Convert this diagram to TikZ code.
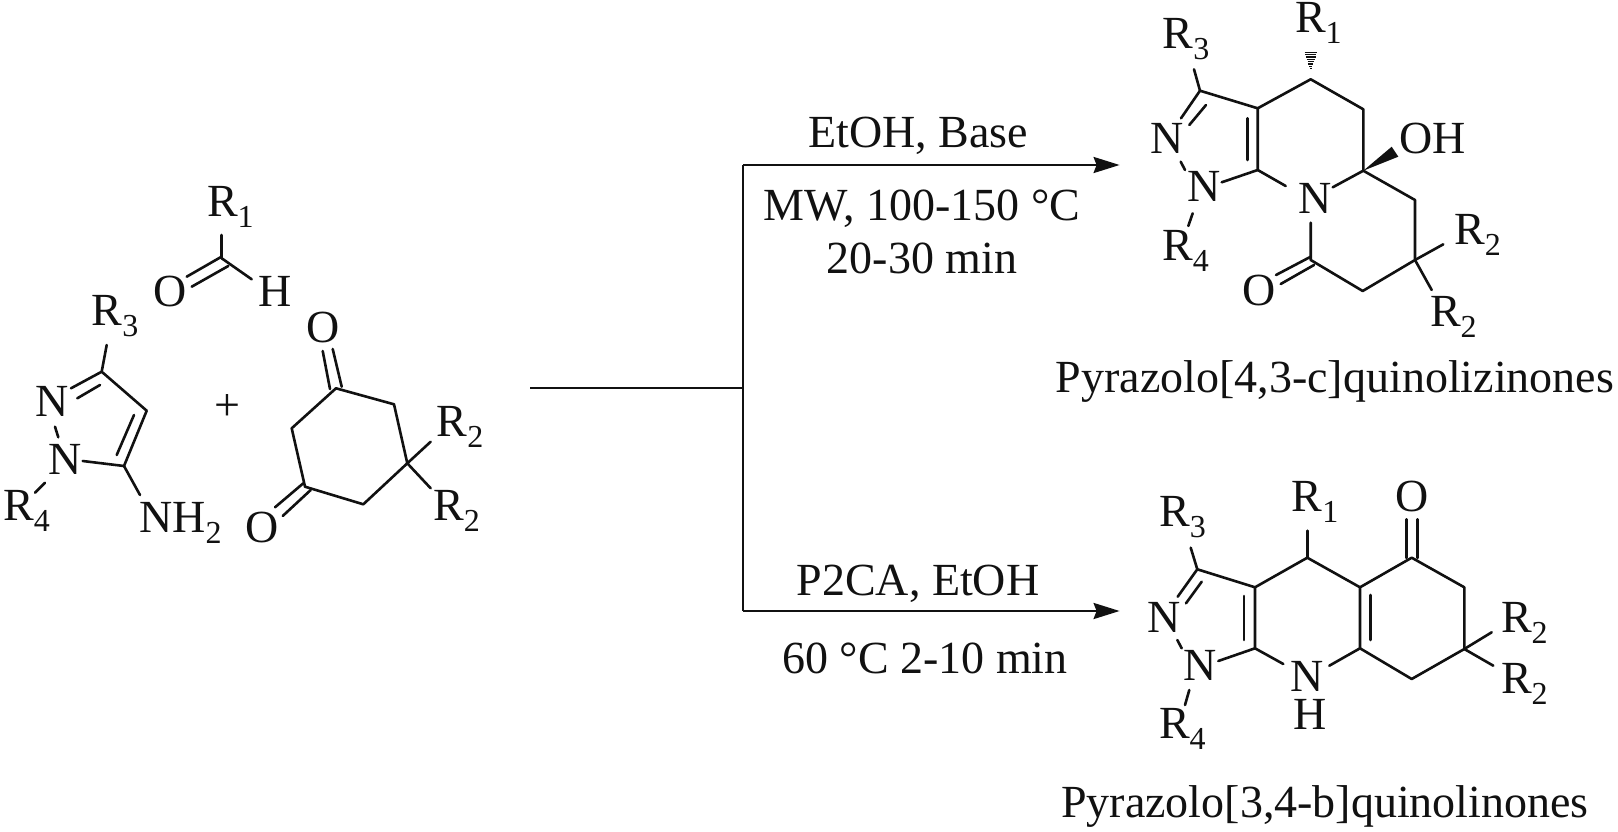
\documentclass[tikz,border=0pt]{standalone}
\usepackage{fontspec}
\setmainfont{Liberation Serif}
\usetikzlibrary{arrows.meta}
\newcommand{\subnum}[1]{\raisebox{-11pt}{\fontsize{32}{32}\selectfont #1}}
\newcommand{\Rn}[1]{R\subnum{#1}}
\definecolor{ink}{HTML}{111111}
\tikzset{
  lab/.style={anchor=base west,inner sep=0pt,outer sep=0pt,font=\fontsize{46}{46}\selectfont},
  captext/.style={anchor=base,inner sep=0pt,outer sep=0pt,font=\fontsize{46}{46}\selectfont},
  bond/.style={line width=2.6pt,line cap=round,line join=round,color=ink},
  flow/.style={line width=2.6pt,color=ink},
  flowarrow/.style={flow,-{Stealth[length=26pt,width=16pt,inset=3pt]}},
}
\begin{document}
\begin{tikzpicture}[x=1pt,y=-1pt,color=ink,text=ink]
\useasboundingbox (0,0) rectangle (1618,832);
\fill[white] (0,0) rectangle (1618,832);

% ---------- aldehyde
\coordinate (ac) at (221.7,258.3);
\coordinate (ar) at (221.7,235);
\coordinate (ah) at (251.7,279.3);
\coordinate (ao1) at (221,257) ; \coordinate (ao1e) at (186.7,276.7);
\coordinate (ao2) at (228.3,266); \coordinate (ao2e) at (191.7,286.7);
\node[lab] (aR1) at (207,216) {\Rn{1}};
\node[lab] (aO) at (153,306.7) {O};
\node[lab] (aH) at (258,306.7) {H};
\draw[bond] (ac) -- (ar);
\draw[bond] (ac) -- (ah);
\draw[bond] (ao1) -- (ao1e);
\draw[bond] (ao2) -- (ao2e);

% ---------- aminopyrazole
\coordinate (p3) at (101.7,371.7);
\coordinate (p4) at (146.7,410.7);
\coordinate (p5) at (124,466);
\coordinate (pr3) at (106.7,345);
\coordinate (pn2a) at (71,388.3);
\coordinate (pi1) at (100,385);
\coordinate (pi2) at (77.3,398.3);
\coordinate (pi3) at (134,415);
\coordinate (pi4) at (116.7,455);
\coordinate (pn1a) at (82.7,461);
\coordinate (pnh) at (140,495);
\coordinate (pnn1) at (55,426.7);
\coordinate (pnn2) at (58.3,437.3);
\coordinate (pr4a) at (45,482.7);
\coordinate (pr4b) at (35,492.7);
\node[lab] (pN2) at (35,416) {N};
\node[lab] (pN1) at (48.3,474) {N};
\node[lab] (pR3) at (91.7,325) {\Rn{3}};
\node[lab] (pR4) at (3.3,520.7) {\Rn{4}};
\node[lab] (pNH) at (139.3,532.7) {NH\subnum{2}};
\draw[bond] (pr3) -- (p3) -- (p4) -- (p5) -- (pn1a);
\draw[bond] (p3) -- (pn2a);
\draw[bond] (pi1) -- (pi2);
\draw[bond] (pi3) -- (pi4);
\draw[bond] (p5) -- (pnh);
\draw[bond] (pnn1) -- (pnn2);
\draw[bond] (pr4a) -- (pr4b);

\node[lab] (plus) at (214.3,420) {+};

% ---------- dione
\coordinate (d1) at (336,388.3);
\coordinate (d2) at (394,404.3);
\coordinate (d3) at (407.3,463.3);
\coordinate (d4) at (363.3,504.3);
\coordinate (d5) at (305,486.7);
\coordinate (d6) at (291.7,428.3);
\coordinate (dt1) at (330,389); \coordinate (dt1e) at (322.7,351);
\coordinate (dt2) at (341.7,386.7); \coordinate (dt2e) at (332.7,349);
\coordinate (db1) at (303.3,483.3); \coordinate (db1e) at (275,507.3);
\coordinate (db2) at (310.7,490); \coordinate (db2e) at (282.7,516);
\coordinate (dr1) at (430.7,441.7);
\coordinate (dr2) at (430.7,488.3);
\node[lab] (dOt) at (306,342.3) {O};
\node[lab] (dOb) at (245,542.7) {O};
\node[lab] (dRa) at (436.7,436) {\Rn{2}};
\node[lab] (dRb) at (433.3,520.7) {\Rn{2}};
\draw[bond] (d1) -- (d2) -- (d3) -- (d4) -- (d5) -- (d6) -- cycle;
\draw[bond] (dt1) -- (dt1e);
\draw[bond] (dt2) -- (dt2e);
\draw[bond] (db1) -- (db1e);
\draw[bond] (db2) -- (db2e);
\draw[bond] (d3) -- (dr1);
\draw[bond] (d3) -- (dr2);

% ---------- reaction scheme lines
\coordinate (fs) at (530.4,388);
\coordinate (fj) at (743,388);
\coordinate (ft) at (743,165);
\coordinate (fb) at (743,611);
\coordinate (fte) at (1119.6,165);
\coordinate (fbe) at (1119.6,611);
\draw[flow] (fs) -- (fj);
\draw[flow] (fb) -- (ft);
\draw[flowarrow] (ft) -- (fte);
\draw[flowarrow] (fb) -- (fbe);
\node[captext] (t1) at (918,147.6) {EtOH, Base};
\node[captext] (t2) at (922,220) {MW, 100-150 °C};
\node[captext] (t3) at (922,273.5) {20-30 min};
\node[captext] (t4) at (918,595) {P2CA, EtOH};
\node[captext] (t5) at (925,673) {60 °C 2-10 min};

% ---------- product 1
\coordinate (q3) at (1200,90.7);
\coordinate (q3a) at (1257.7,108.3);
\coordinate (q9) at (1257.7,170);
\coordinate (q4) at (1310.7,79.3);
\coordinate (q5) at (1363.3,109.3);
\coordinate (q6) at (1363.3,170.7);
\coordinate (q7) at (1415,200);
\coordinate (q8) at (1415,260);
\coordinate (q10) at (1362.7,291);
\coordinate (q11) at (1310.7,260);
\coordinate (qnl) at (1285.7,186);
\coordinate (qnr) at (1332.7,187.3);
\coordinate (qnb) at (1310.7,222.7);
\coordinate (qo1) at (1310.7,256.7); \coordinate (qo1e) at (1276,275);
\coordinate (qo2) at (1314,265); \coordinate (qo2e) at (1280.7,284);
\coordinate (qr2a) at (1443.3,244.3);
\coordinate (qr2b) at (1431.7,290);
\coordinate (qr3) at (1194,69.3);
\coordinate (qn2) at (1181,118.3);
\coordinate (qi1) at (1206,105); \coordinate (qi2) at (1189.3,125);
\coordinate (qnn1) at (1180.7,161.7); \coordinate (qnn2) at (1185,170);
\coordinate (qn1) at (1221.7,182.3);
\coordinate (qi3) at (1247.7,118.3); \coordinate (qi4) at (1247.7,160);
\coordinate (qr4a) at (1192.7,213.3); \coordinate (qr4b) at (1188.3,226);
\coordinate (qw1) at (1391.7,146.7); \coordinate (qw2) at (1398.3,156.7);
\node[lab] (qR1) at (1295,32.3) {\Rn{1}};
\node[lab] (qR3) at (1162.7,49) {\Rn{3}};
\node[lab] (qR4) at (1162.3,260) {\Rn{4}};
\node[lab] (qN2) at (1150,154) {N};
\node[lab] (qN1) at (1187.7,201.7) {N};
\node[lab] (qN) at (1298.3,213.3) {N};
\node[lab] (qOH) at (1399.3,154) {OH};
\node[lab] (qO) at (1242,305) {O};
\node[lab] (qRa) at (1454.3,244.3) {\Rn{2}};
\node[lab] (qRb) at (1430,326) {\Rn{2}};
\draw[bond] (qr3) -- (q3) -- (q3a) -- (q9) -- (qn1);
\draw[bond] (q3) -- (qn2);
\draw[bond] (qi1) -- (qi2);
\draw[bond] (qi3) -- (qi4);
\draw[bond] (qnn1) -- (qnn2);
\draw[bond] (qr4a) -- (qr4b);
\draw[bond] (q3a) -- (q4) -- (q5) -- (q6) -- (q7) -- (q8) -- (q10) -- (q11) -- (qnb);
\draw[bond] (q9) -- (qnl);
\draw[bond] (q6) -- (qnr);
\draw[bond] (qo1) -- (qo1e);
\draw[bond] (qo2) -- (qo2e);
\draw[bond] (q8) -- (qr2a);
\draw[bond] (q8) -- (qr2b);
\fill (q6) -- (qw1) -- (qw2) -- cycle;
% hashed bond
\foreach \t/\w in {0.04/0.9,0.18/1.6,0.32/2.4,0.46/3.2,0.60/4,0.74/4.8,0.88/5.6,1/6.2}{
  \draw[line width=1.1pt] (1310.7-\w,69.3-16.6*\t) -- (1310.7+\w,69.3-16.6*\t);
}
\node[captext] (qT) at (1335,392) {Pyrazolo[4,3-c]quinolizinones};

% ---------- product 2
\coordinate (r3) at (1197.3,569.3);
\coordinate (r3a) at (1255,587.3);
\coordinate (r7) at (1255,648.3);
\coordinate (r4) at (1307.3,557.7);
\coordinate (r4a) at (1360,587.3);
\coordinate (r8) at (1360,648.3);
\coordinate (r5) at (1411.7,557.7);
\coordinate (r6) at (1464.3,587.3);
\coordinate (r9) at (1464.3,649);
\coordinate (r10) at (1411.7,679);
\coordinate (rr1) at (1307.3,530.7);
\coordinate (ro1) at (1406.7,558); \coordinate (ro1e) at (1406.7,519.3);
\coordinate (ro2) at (1417.3,558); \coordinate (ro2e) at (1417.3,519.3);
\coordinate (rr3) at (1190.7,547.7);
\coordinate (rn2) at (1177.7,596.7);
\coordinate (ri1) at (1201.7,581.7); \coordinate (ri2) at (1186,603.3);
\coordinate (rnn1) at (1177.3,640); \coordinate (rnn2) at (1181.7,648.3);
\coordinate (rn1) at (1218.3,661);
\coordinate (ri3) at (1244,596); \coordinate (ri4) at (1244,640);
\coordinate (rnl) at (1283.3,664);
\coordinate (rnr) at (1329.3,665.7);
\coordinate (ri5) at (1370.7,595); \coordinate (ri6) at (1370.7,640);
\coordinate (rra) at (1491.7,632.3);
\coordinate (rrb) at (1493.3,665.7);
\coordinate (rr4a) at (1189.3,690); \coordinate (rr4b) at (1185,705);
\node[lab] (rR1) at (1291.7,511.7) {\Rn{1}};
\node[lab] (rO) at (1395.5,511.7) {O};
\node[lab] (rR3) at (1159.3,526.7) {\Rn{3}};
\node[lab] (rN2) at (1147.3,632.3) {N};
\node[lab] (rN1) at (1183.3,680.7) {N};
\node[lab] (rN) at (1290.7,691.7) {N};
\node[lab] (rH) at (1293.3,729) {H};
\node[lab] (rRa) at (1501,632.3) {\Rn{2}};
\node[lab] (rRb) at (1501,693.3) {\Rn{2}};
\node[lab] (rR4) at (1159,738.3) {\Rn{4}};
\draw[bond] (rr3) -- (r3) -- (r3a) -- (r7) -- (rn1);
\draw[bond] (r3) -- (rn2);
\draw[bond] (ri1) -- (ri2);
\draw[bond] (ri3) -- (ri4);
\draw[bond] (rnn1) -- (rnn2);
\draw[bond] (rr4a) -- (rr4b);
\draw[bond] (r3a) -- (r4) -- (r4a) -- (r5) -- (r6) -- (r9) -- (r10) -- (r8) -- (r4a);
\draw[bond] (r4) -- (rr1);
\draw[bond] (ro1) -- (ro1e);
\draw[bond] (ro2) -- (ro2e);
\draw[bond] (r7) -- (rnl);
\draw[bond] (r8) -- (rnr);
\draw[bond] (ri5) -- (ri6);
\draw[bond] (r9) -- (rra);
\draw[bond] (r9) -- (rrb);
\node[captext] (rT) at (1325,817) {Pyrazolo[3,4-b]quinolinones};
\end{tikzpicture}
\end{document}
